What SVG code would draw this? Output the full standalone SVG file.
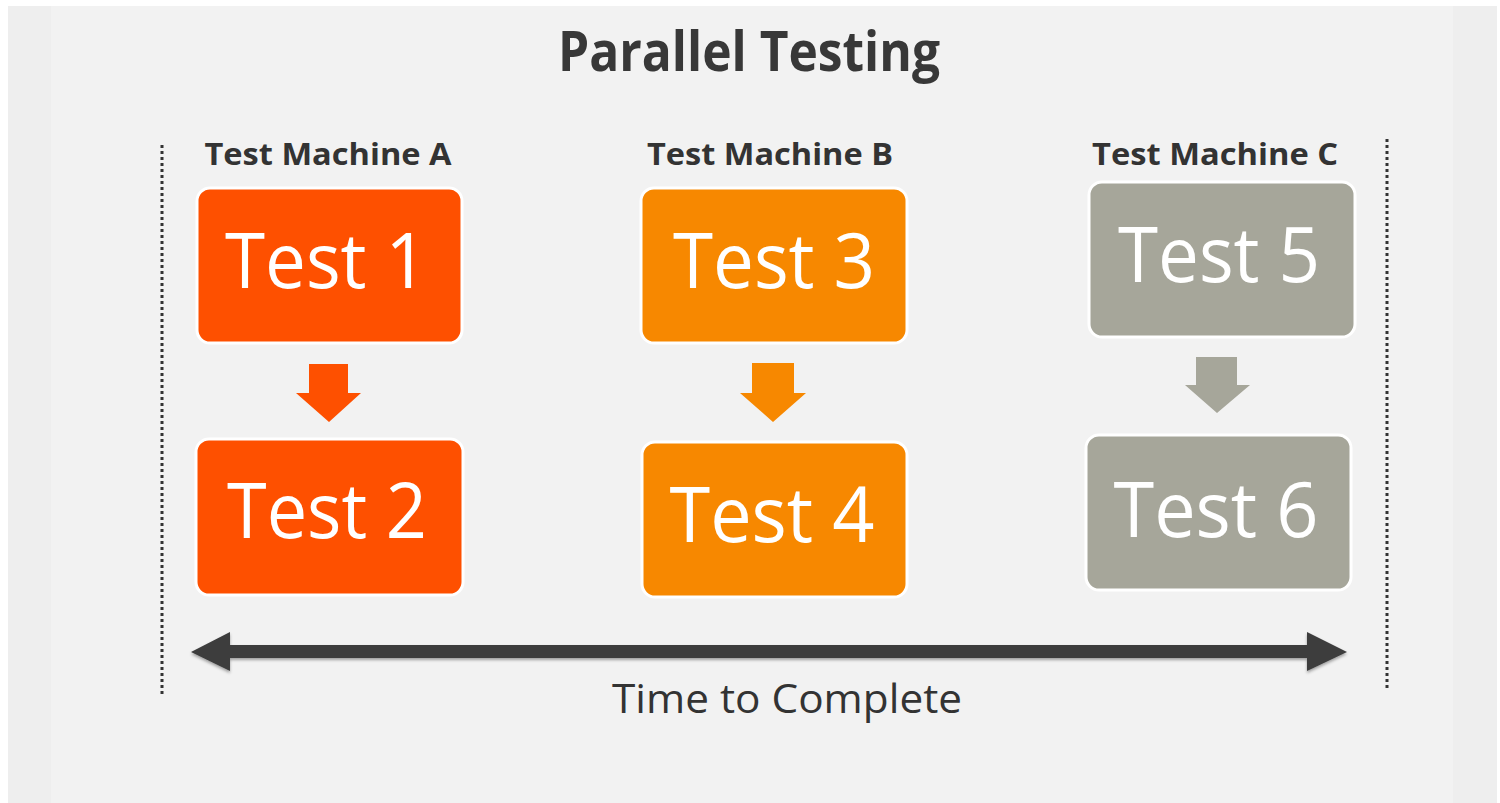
<svg xmlns="http://www.w3.org/2000/svg" width="1500" height="803" viewBox="0 0 1500 803">
  <defs>
    <style>
      .title { font-family: "Open Sans", "Noto Sans", sans-serif; font-weight: bold; fill: #383838; }
      .label { font-family: "Open Sans", "Noto Sans", sans-serif; font-weight: bold; fill: #333333; font-size: 31px; }
      .box { stroke: #ffffff; stroke-width: 3; }
      .boxtext { font-family: "Open Sans", "Noto Sans", sans-serif; fill: #ffffff; font-size: 76px; }
      .a { fill: #fe5000; }
      .b { fill: #f78800; }
      .c { fill: #a6a69a; }
      .dots { stroke: #333333; stroke-width: 3; stroke-dasharray: 3 3; fill: none; }
      .time { font-family: "Open Sans", "Noto Sans", sans-serif; fill: #333333; font-size: 41px; }
    </style>
    <filter id="sh" x="-5%" y="-50%" width="110%" height="200%">
      <feDropShadow dx="0" dy="2" stdDeviation="1.5" flood-color="#000000" flood-opacity="0.35"/>
    </filter>
  </defs>

  <rect x="0" y="0" width="1500" height="803" fill="#ffffff"/>
  <rect x="8" y="6" width="1489" height="797" fill="#eeeeee"/>
  <rect x="51" y="6" width="1402" height="797" fill="#f2f2f2"/>

  <text class="title" x="749" y="71" font-size="56" text-anchor="middle" textLength="382" lengthAdjust="spacingAndGlyphs">Parallel Testing</text>

  <line class="dots" x1="162" y1="145" x2="162" y2="697"/>
  <line class="dots" x1="1387" y1="139" x2="1387" y2="690"/>

  <text class="label" x="328" y="165" text-anchor="middle" textLength="247" lengthAdjust="spacingAndGlyphs">Test Machine A</text>
  <text class="label" x="770" y="165" text-anchor="middle" textLength="246" lengthAdjust="spacingAndGlyphs">Test Machine B</text>
  <text class="label" x="1215" y="165" text-anchor="middle" textLength="246" lengthAdjust="spacingAndGlyphs">Test Machine C</text>

  <g id="test1">
    <rect class="box a" x="197" y="188" width="265" height="155" rx="13"/>
    <text class="boxtext" x="326" y="288" text-anchor="middle" textLength="202" lengthAdjust="spacingAndGlyphs">Test 1</text>
  </g>
  <g id="test2">
    <rect class="box a" x="196" y="439" width="267" height="156" rx="13"/>
    <text class="boxtext" x="327" y="538" text-anchor="middle" textLength="200" lengthAdjust="spacingAndGlyphs">Test 2</text>
  </g>
  <g id="test3">
    <rect class="box b" x="641" y="188" width="266" height="155" rx="13"/>
    <text class="boxtext" x="774" y="288" text-anchor="middle" textLength="202" lengthAdjust="spacingAndGlyphs">Test 3</text>
  </g>
  <g id="test4">
    <rect class="box b" x="642" y="442" width="265" height="155" rx="13"/>
    <text class="boxtext" x="772" y="542" text-anchor="middle" textLength="205" lengthAdjust="spacingAndGlyphs">Test 4</text>
  </g>
  <g id="test5">
    <rect class="box c" x="1089" y="182" width="266" height="155" rx="13"/>
    <text class="boxtext" x="1219" y="282" text-anchor="middle" textLength="202" lengthAdjust="spacingAndGlyphs">Test 5</text>
  </g>
  <g id="test6">
    <rect class="box c" x="1086" y="435" width="265" height="155" rx="13"/>
    <text class="boxtext" x="1216" y="537" text-anchor="middle" textLength="205" lengthAdjust="spacingAndGlyphs">Test 6</text>
  </g>

  <g id="connectors">
    <polygon class="a" points="309,364 348,364 348,393 361,393 329,422 296,393 309,393"/>
    <polygon class="b" points="752,363 794,363 794,393 806,393 773,422 740,393 752,393"/>
    <polygon class="c" points="1196,357 1237,357 1237,385 1250,385 1217,413 1185,385 1196,385"/>
    <polygon fill="#3d3d3d" filter="url(#sh)" points="191,652 230,632 230,645 1307,645 1307,632 1347,652 1307,671 1307,658 230,658 230,671"/>
  </g>

  <text class="time" x="787" y="713" text-anchor="middle" textLength="350" lengthAdjust="spacingAndGlyphs">Time to Complete</text>
</svg>
